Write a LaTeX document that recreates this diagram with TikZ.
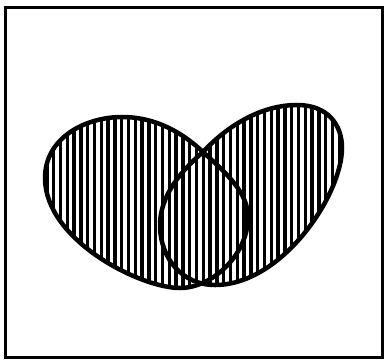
\documentclass[tikz,border=0pt]{standalone}
\usepackage{tikz}

\begin{document}
\begin{tikzpicture}[
    x=1pt, y=-1pt,
    frame/.style={line width=3pt},
    blob/.style={line width=4.5pt, line join=round},
    hatch/.style={line width=3.4pt}
]
\useasboundingbox (0,0) rectangle (385,360);
\def\leftblob{(45,178) .. controls (45,138) and (85,117) .. (122,117)
  .. controls (158,117) and (185,135) .. (203,152)
  .. controls (225,172) and (248,192) .. (248,217)
  .. controls (248,255) and (212,288) .. (180,288)
  .. controls (140,288) and (45,240) .. cycle}
\def\rightblob{(203,152) .. controls (228,125) and (262,105) .. (297,105)
  .. controls (328,105) and (342,125) .. (342,148)
  .. controls (342,195) and (282,285) .. (215,285)
  .. controls (182,285) and (160,258) .. (160,225)
  .. controls (160,195) and (182,170) .. cycle}

% frame
\draw[frame] (5,7) rectangle (382,357);

% vertical hatching of both sets
\begin{scope}
  \clip \leftblob \rightblob;
  \foreach \x in {40,46.8,...,350}
    \draw[hatch] (\x,95) -- (\x,300);
\end{scope}

% outlines
\draw[blob] \leftblob;
\draw[blob] \rightblob;
\end{tikzpicture}
\end{document}
